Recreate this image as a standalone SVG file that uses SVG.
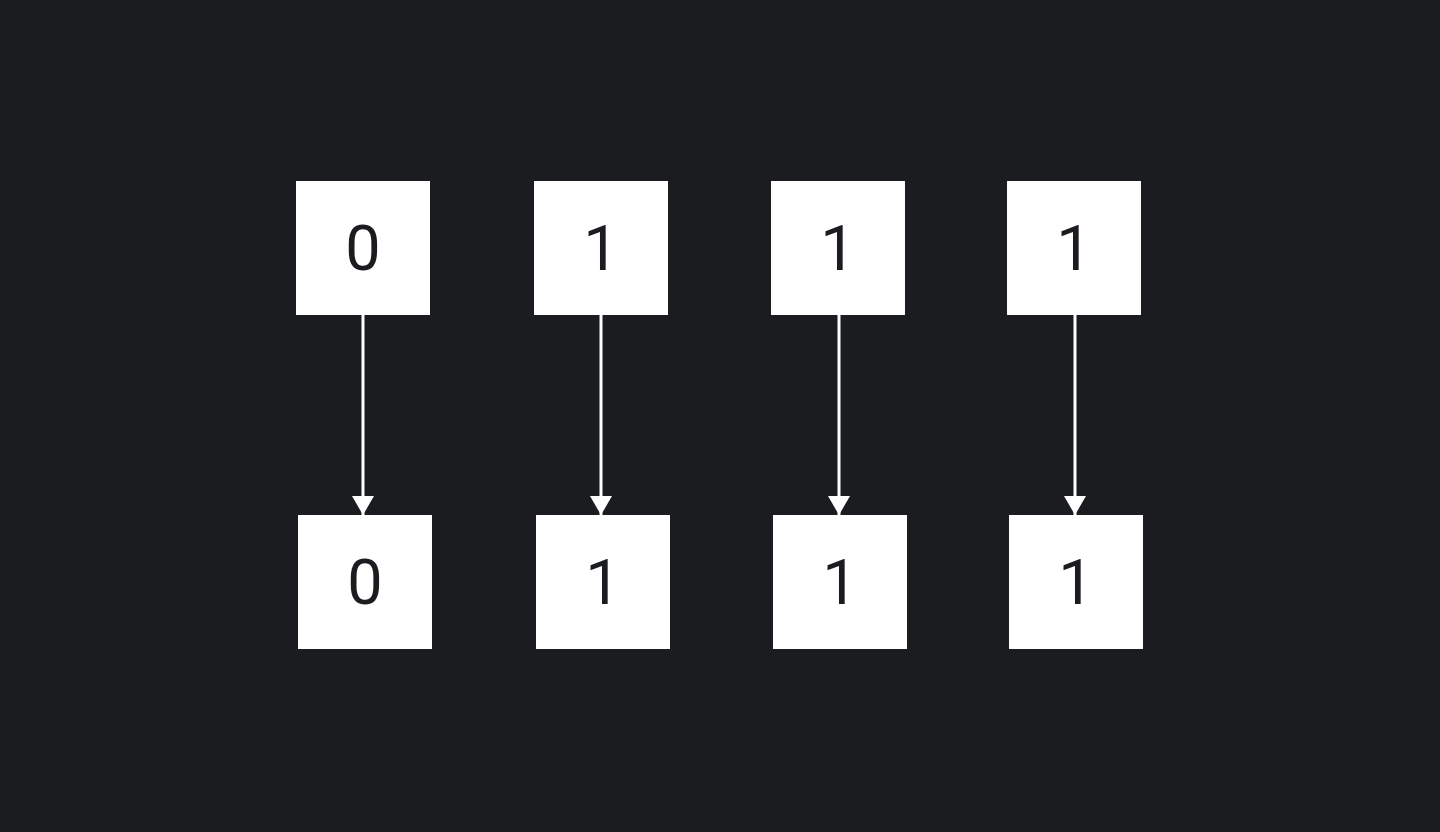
<svg xmlns="http://www.w3.org/2000/svg" width="1440" height="832" viewBox="0 0 1440 832">
<defs>
<style>
.box{fill:#ffffff}
.lbl{font-family:Roboto,"Liberation Sans",sans-serif;font-size:63px;fill:#1b1c20;text-anchor:middle}
.edge{stroke:#ffffff;stroke-width:3;fill:none}
</style>
<marker id="ah" markerWidth="19" markerHeight="22" refX="19" refY="11" orient="auto" markerUnits="userSpaceOnUse" viewBox="0 0 19 22">
<path d="M0,0 L19,11 L0,22 Z" fill="#ffffff"/>
</marker>
</defs>
<rect width="1440" height="832" fill="#1b1c20"/>
<g id="connectors">
<line class="edge" x1="363" y1="315" x2="363" y2="515" marker-end="url(#ah)"/>
<line class="edge" x1="601" y1="315" x2="601" y2="515" marker-end="url(#ah)"/>
<line class="edge" x1="839" y1="315" x2="839" y2="515" marker-end="url(#ah)"/>
<line class="edge" x1="1075" y1="315" x2="1075" y2="515" marker-end="url(#ah)"/>
</g>
<g id="t0"><rect class="box" x="296" y="181" width="134" height="134"/><text class="lbl" x="363" y="270">0</text></g>
<g id="t1"><rect class="box" x="534" y="181" width="134" height="134"/><text class="lbl" x="601" y="270">1</text></g>
<g id="t2"><rect class="box" x="771" y="181" width="134" height="134"/><text class="lbl" x="838" y="270">1</text></g>
<g id="t3"><rect class="box" x="1007" y="181" width="134" height="134"/><text class="lbl" x="1074" y="270">1</text></g>
<g id="b0"><rect class="box" x="298" y="515" width="134" height="134"/><text class="lbl" x="365" y="604">0</text></g>
<g id="b1"><rect class="box" x="536" y="515" width="134" height="134"/><text class="lbl" x="603" y="604">1</text></g>
<g id="b2"><rect class="box" x="773" y="515" width="134" height="134"/><text class="lbl" x="840" y="604">1</text></g>
<g id="b3"><rect class="box" x="1009" y="515" width="134" height="134"/><text class="lbl" x="1076" y="604">1</text></g>
</svg>
